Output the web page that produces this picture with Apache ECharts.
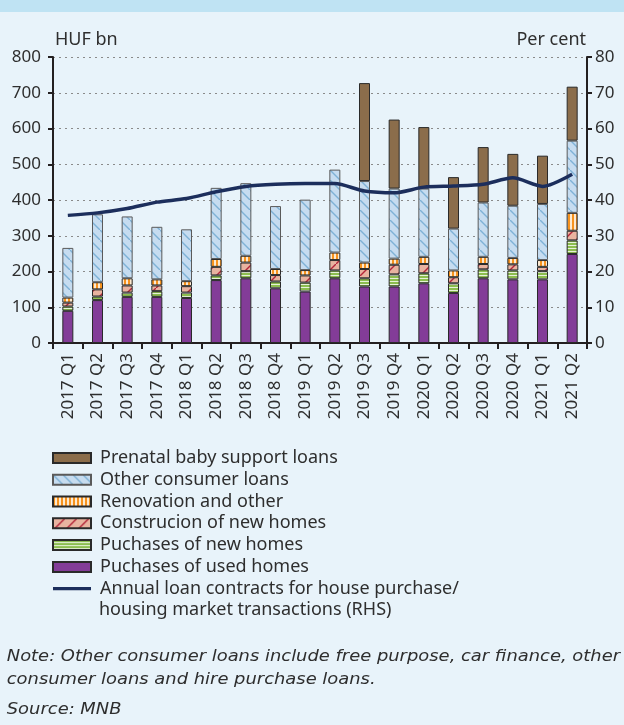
<!DOCTYPE html>
<html>
<head>
<meta charset="utf-8">
<script src="https://cdn.jsdelivr.net/npm/echarts@6/dist/echarts.min.js"></script>
<style>
  html, body { margin: 0; padding: 0; background: #e8f3fa; }
  #chart { width: 624px; height: 725px; }
</style>
</head>
<body>
<div id="chart"></div>
<script>
// Quarterly household loan contracts, HUF bn (stacked) and housing-loan share, per cent
const categories = ['2017 Q1','2017 Q2','2017 Q3','2017 Q4','2018 Q1','2018 Q2','2018 Q3','2018 Q4',
  '2019 Q1','2019 Q2','2019 Q3','2019 Q4','2020 Q1','2020 Q2','2020 Q3','2020 Q4','2021 Q1','2021 Q2'];
const usedHomes     = [90, 120, 129, 129, 126, 176, 181, 153, 144, 181, 158, 158, 167, 140, 181, 178, 178, 249];
const newHomes      = [12, 10, 12, 16, 15, 13, 20, 19, 25, 22, 23, 34, 28, 27, 25, 25, 23, 38];
const construction  = [11, 20, 20, 16, 18, 24, 24, 18, 20, 29, 26, 27, 26, 17, 15, 17, 12, 27];
const renovation    = [14, 20, 20, 17, 14, 22, 19, 17, 15, 21, 18, 17, 20, 19, 20, 18, 19, 50];
const otherConsumer = [139, 190, 173, 147, 145, 199, 203, 176, 197, 232, 228, 196, 191, 117, 152, 146, 157, 202];
const prenatal      = [null, null, null, null, null, null, null, null, null, null, 274, 193, 172, 144, 155, 145, 135, 151];
const housingShare  = [35.7, 36.4, 37.6, 39.4, 40.4, 42.3, 43.8, 44.4, 44.6, 44.6, 42.5, 42.0, 43.6, 43.9, 44.4, 46.2, 43.8, 47.2];
const leftTicks = { min: 0, max: 800, step: 100 };
const rightTicks = { min: 0, max: 80, step: 10 };

const lineName = 'Annual loan contracts for house purchase/ housing market transactions (RHS)';

// Small canvas tiles used as repeating fills
function tile(w, h, bg, draw) {
  const c = document.createElement('canvas');
  c.width = w; c.height = h;
  const g = c.getContext('2d');
  g.fillStyle = bg;
  g.fillRect(0, 0, w, h);
  draw(g);
  return { image: c, repeat: 'repeat' };
}
const greenFill = tile(4, 3, '#8cbd4f', g => { g.fillStyle = '#e6f1d8'; g.fillRect(0, 2, 4, 1); });
const orangeFill = tile(4, 4, '#f7931e', g => { g.fillStyle = '#fde9cf'; g.fillRect(2, 0, 2, 4); });
const salmonFill = tile(12, 12, '#e8b3a0', g => {
  g.strokeStyle = '#b3263a'; g.lineWidth = 1.4;
  g.beginPath(); g.moveTo(-1, 13); g.lineTo(13, -1); g.stroke();
});
const blueFill = tile(10, 10, '#c6dcf0', g => {
  g.strokeStyle = '#7fb1d6'; g.lineWidth = 1.4;
  g.beginPath(); g.moveTo(-1, -1); g.lineTo(11, 11); g.stroke();
});

const font = '"Noto Sans", "Open Sans", sans-serif';
const noteFont = 'italic 15.5px "DejaVu Sans", sans-serif';
const textColor = '#2e2e2e';
const axisColor = '#231f20';

function barSeries(name, data, color, border) {
  return {
    name, type: 'bar', stack: 'loans', data, barWidth: 11,
    itemStyle: { color, borderColor: border || '#2a2a2a', borderWidth: 1 }
  };
}

// Footnote lines, slightly widened to the page width
function noteText(text, y) {
  return {
    type: 'text', x: 8, y, scaleX: 1.155, originX: 8, originY: y,
    style: { text, font: noteFont, fill: textColor, verticalAlign: 'middle' }
  };
}

const chart = echarts.init(document.getElementById('chart'), null, { renderer: 'canvas' });
chart.setOption({
  backgroundColor: '#e8f3fa',
  animation: false,
  textStyle: { fontFamily: font },
  grid: { left: 53, right: 37, top: 57, bottom: 382 },
  legend: {
    orient: 'vertical', left: 52, top: 447, padding: 0,
    itemWidth: 38, itemHeight: 10, itemGap: 0,
    textStyle: { fontSize: 18, color: textColor, lineHeight: 21.8, fontFamily: font, padding: [0, 0, 0, 4] },
    data: [
      { name: 'Prenatal baby support loans', icon: 'rect' },
      { name: 'Other consumer loans', icon: 'rect' },
      { name: 'Renovation and other', icon: 'rect' },
      { name: 'Construcion of new homes', icon: 'rect' },
      { name: 'Puchases of new homes', icon: 'rect' },
      { name: 'Puchases of used homes', icon: 'rect' },
      { name: lineName, icon: 'path://M0,0 M0,3.4 L38,3.4 L38,6.6 L0,6.6 Z M38,10' }
    ],
    formatter: n => n === lineName ? 'Annual loan contracts for house purchase/' : n
  },
  xAxis: {
    type: 'category', data: categories,
    axisLine: { lineStyle: { color: axisColor, width: 2 } },
    axisTick: { show: true, length: 6, lineStyle: { color: axisColor, width: 2 } },
    axisLabel: { rotate: 90, fontSize: 17, color: textColor, margin: 10, fontFamily: font }
  },
  yAxis: [{
    type: 'value', min: leftTicks.min, max: leftTicks.max, interval: leftTicks.step,
    axisLine: { show: true, lineStyle: { color: axisColor, width: 2 } },
    axisTick: { show: true, length: 5, lineStyle: { color: axisColor, width: 2 } },
    axisLabel: { fontSize: 17, color: textColor, margin: 12, fontFamily: font },
    splitLine: { show: true, lineStyle: { color: '#8a8a8a', width: 1, type: [2, 4] } }
  }, {
    type: 'value', min: rightTicks.min, max: rightTicks.max, interval: rightTicks.step,
    axisLine: { show: true, lineStyle: { color: axisColor, width: 2 } },
    axisTick: { show: true, length: 5, lineStyle: { color: axisColor, width: 2 } },
    axisLabel: { fontSize: 17, color: textColor, margin: 8, fontFamily: font },
    splitLine: { show: false }
  }],
  series: [
    barSeries('Puchases of used homes', usedHomes, '#833c98'),
    barSeries('Puchases of new homes', newHomes, greenFill),
    barSeries('Construcion of new homes', construction, salmonFill),
    barSeries('Renovation and other', renovation, orangeFill),
    barSeries('Other consumer loans', otherConsumer, blueFill, '#5a5a5a'),
    barSeries('Prenatal baby support loans', prenatal, '#8b6d4b'),
    {
      name: lineName, type: 'line', yAxisIndex: 1, data: housingShare,
      smooth: 0.25, symbol: 'none', showSymbol: false, z: 5,
      lineStyle: { color: '#1c2e5c', width: 3.5 },
      itemStyle: { color: '#1c2e5c' }
    }
  ],
  graphic: [
    { type: 'rect', left: 0, top: 0, shape: { width: 624, height: 12 }, style: { fill: '#bfe3f3' } },
    { type: 'text', x: 55, y: 40, style: { text: 'HUF bn', font: '18px ' + font, fill: textColor, verticalAlign: 'middle' } },
    { type: 'text', x: 586, y: 40, style: { text: 'Per cent', font: '18px ' + font, fill: textColor, align: 'right', verticalAlign: 'middle' } },
    { type: 'text', x: 99, y: 610, style: { text: 'housing market transactions (RHS)', font: '18px ' + font, fill: textColor, verticalAlign: 'middle' } },
    noteText('Note: Other consumer loans include free purpose, car finance, other', 657),
    noteText('consumer loans and hire purchase loans.', 680),
    noteText('Source: MNB', 710)
  ]
});
</script>
</body>
</html>
